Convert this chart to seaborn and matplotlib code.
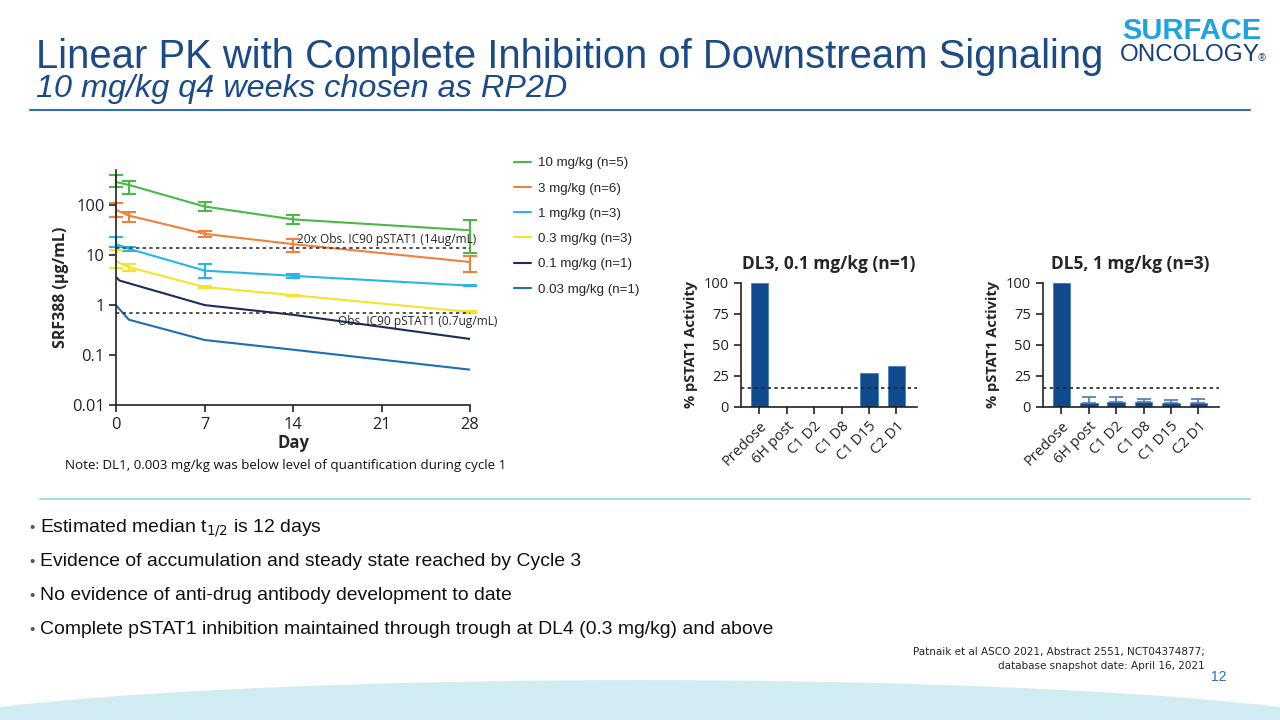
import numpy as np
import pandas as pd
import seaborn as sns
import matplotlib.pyplot as plt
from matplotlib.lines import Line2D
from matplotlib.patches import Ellipse

# PK data (SRF388, ug/mL)
days = [0, 1, 7, 14, 28]
days_01 = [0, 0.25, 7, 14, 28]

pk_10 = [290, 255, 94, 52, 31.5]
pk_10_lo = [235, 166, 77, 43, 11]
pk_10_hi = [400, 310, 115, 64, 51]

pk_3 = [80, 62, 26.7, 16.6, 7.3]
pk_3_lo = [59, 47, 23, 11.8, 4.6]
pk_3_hi = [110, 74, 31, 21, 9.7]

pk_1 = [16.6, 13.4, 4.9, 3.85, 2.45]
pk_1_lo = [14.8, 12.2, 3.5, 3.5, 2.4]
pk_1_hi = [23, 14.7, 6.8, 4.2, 2.5]

pk_03 = [7.5, 5.75, 2.3, 1.58, 0.73]
pk_03_lo = [5.5, 4.9, 2.2, 1.53, 0.7]
pk_03_hi = [12.8, 6.6, 2.4, 1.63, 0.76]

pk_01 = [3.6, 3.1, 1.0, 0.64, 0.21]
pk_003 = [0.98, 0.51, 0.2, 0.128, 0.051]

dose_labels = ["10 mg/kg (n=5)", "3 mg/kg (n=6)", "1 mg/kg (n=3)",
               "0.3 mg/kg (n=3)", "0.1 mg/kg (n=1)", "0.03 mg/kg (n=1)"]
dose_colors = ["#4db848", "#f0803c", "#29b5e8", "#f7e22b", "#1c2b5a", "#1f6db6"]

ic90 = 0.7
ic90_20x = 14

# pSTAT1 bar data
timepoints = ["Predose", "6H post", "C1 D2", "C1 D8", "C1 D15", "C2 D1"]
dl3_vals = [100, 0, 0, 0, 27.5, 33]
dl5_vals = [100, 3.3, 3.9, 3.9, 3.0, 3.0]
dl5_err = [0, 4.2, 4.2, 2.6, 2.6, 3.0]
pstat_cut = 15

navy = "#1b4a87"
bar_col = "#0f4a8c"

sns.set_style("ticks")
plt.rcParams['font.family'] = ['Open Sans', 'DejaVu Sans']
plt.rcParams['axes.edgecolor'] = '#222222'
plt.rcParams['xtick.color'] = '#222222'
plt.rcParams['ytick.color'] = '#222222'

fig = plt.figure(figsize=(12.8, 7.2), dpi=100)
fig.patch.set_facecolor('white')

# ---- header ----
fig.text(36 / 1280, 1 - 68 / 720, "Linear PK with Complete Inhibition of Downstream Signaling",
         fontsize=28.8, color=navy, family='Liberation Sans', va='baseline')
fig.text(36 / 1280, 1 - 97 / 720, "10 mg/kg q4 weeks chosen as RP2D",
         fontsize=23.3, color=navy, family='Liberation Sans', style='italic', va='baseline')
fig.add_artist(Line2D([30 / 1280, 1250 / 1280], [1 - 110 / 720] * 2, color='#2f6eb0', lw=1.5))
fig.text(1192 / 1280, 1 - 39 / 720, "SURFACE", fontsize=21, fontweight='bold', color='#1ea3df',
         family='Liberation Sans', ha='center', va='baseline')
fig.text(1190 / 1280, 1 - 61 / 720, "ONCOLOGY", fontsize=17.5, color='#14407a',
         family='Liberation Sans', ha='center', va='baseline')
fig.text(1258 / 1280, 1 - 61 / 720, "®", fontsize=7, color='#14407a', va='baseline')

# ---- PK plot ----
ax = fig.add_axes([116.3 / 1280, 1 - 405 / 720, (470 - 116.3) / 1280, (405 - 170.3) / 720])
pk_df = pd.concat([
    pd.DataFrame({"day": days, "conc": pk_10, "dose": dose_labels[0]}),
    pd.DataFrame({"day": days, "conc": pk_3, "dose": dose_labels[1]}),
    pd.DataFrame({"day": days, "conc": pk_1, "dose": dose_labels[2]}),
    pd.DataFrame({"day": days, "conc": pk_03, "dose": dose_labels[3]}),
    pd.DataFrame({"day": days_01, "conc": pk_01, "dose": dose_labels[4]}),
    pd.DataFrame({"day": days, "conc": pk_003, "dose": dose_labels[5]}),
])
sns.lineplot(data=pk_df, x="day", y="conc", hue="dose", palette=dose_colors,
             hue_order=dose_labels, lw=1.5, ax=ax, legend=False)

err_sets = [(pk_10, pk_10_lo, pk_10_hi), (pk_3, pk_3_lo, pk_3_hi),
            (pk_1, pk_1_lo, pk_1_hi), (pk_03, pk_03_lo, pk_03_hi)]
for (v, lo, hi), c in zip(err_sets, dose_colors):
    v = np.array(v)
    ax.errorbar(days, v, yerr=[v - np.array(lo), np.array(hi) - v], fmt='none',
                ecolor=c, elinewidth=1.5, capsize=5, capthick=1.5, clip_on=False)

ax.axhline(ic90_20x, color='#333333', ls=(0, (2, 2)), lw=1.2, xmin=0, xmax=1)
ax.axhline(ic90, color='#333333', ls=(0, (2, 2)), lw=1.2, xmin=0, xmax=1)
ax.text(28.5, ic90_20x * 1.1, "20x Obs. IC90 pSTAT1 (14ug/mL)", ha='right', va='bottom', fontsize=8.6)
ax.text(30.2, ic90 * 0.9, "Obs. IC90 pSTAT1 (0.7ug/mL)", ha='right', va='top', fontsize=8.6)

ax.set_yscale('log')
ax.set_ylim(0.01, 500)
ax.set_xlim(0, 28)
ax.set_xticks([0, 7, 14, 21, 28])
ax.set_yticks([0.01, 0.1, 1, 10, 100])
ax.set_yticklabels(["0.01", "0.1", "1", "10", "100"])
ax.minorticks_off()
ax.tick_params(labelsize=11.8, length=5, width=1.2)
ax.set_xlabel("Day", fontsize=12, fontweight='bold', labelpad=1)
ax.set_ylabel("SRF388 (µg/mL)", fontsize=11.5, fontweight='bold', labelpad=2)
for s in ['left', 'bottom']:
    ax.spines[s].set_linewidth(1.2)
sns.despine(ax=ax)

handles = [Line2D([0], [0], color=c, lw=1.5) for c in dose_colors]
fig.legend(handles, dose_labels, loc='upper left', bbox_to_anchor=(502 / 1280, 1 - 145 / 720),
           frameon=False, prop={'family': 'Liberation Sans', 'size': 9.6},
           handlelength=1.3, labelspacing=0.97, handletextpad=0.5)

fig.text(65 / 1280, 1 - 466 / 720,
         "Note: DL1, 0.003 mg/kg was below level of quantification during cycle 1",
         fontsize=9.6, va='center', color='#111111')


# ---- pSTAT1 bar plots ----
def bar_panel(left, vals, title, err=None):
    axb = fig.add_axes([left / 1280, 1 - 406.7 / 720, 176 / 1280, 124 / 720])
    sns.barplot(x=timepoints, y=vals, color=bar_col, width=0.64, ax=axb,
                edgecolor='#4a7fc0', linewidth=0.6, saturation=1)
    if err is not None:
        axb.errorbar(range(len(vals)), vals, yerr=[np.zeros(len(err)), err], fmt='none',
                     ecolor='#4f77b0', elinewidth=1.2, capsize=5, capthick=1.2)
    axb.axhline(pstat_cut, color='#222222', ls=(0, (2, 2)), lw=1.2)
    axb.set_xlim(-0.68, 5.74)
    axb.set_ylim(0, 100)
    axb.set_yticks([0, 25, 50, 75, 100])
    axb.tick_params(labelsize=10.5, length=5, width=1.2)
    plt.setp(axb.get_xticklabels(), rotation=45, ha='right', rotation_mode='anchor')
    axb.set_ylabel("% pSTAT1 Activity", fontsize=10.5, fontweight='bold', labelpad=4)
    axb.set_title(title, fontsize=12.5, fontweight='bold', pad=10)
    for s in ['left', 'bottom']:
        axb.spines[s].set_linewidth(1.2)
    sns.despine(ax=axb)
    return axb


bar_panel(740.7, dl3_vals, "DL3, 0.1 mg/kg (n=1)")
bar_panel(1042.7, dl5_vals, "DL5, 1 mg/kg (n=3)", err=dl5_err)

# ---- bottom section ----
fig.add_artist(Line2D([40 / 1280, 1250 / 1280], [1 - 499 / 720] * 2, color='#a8d8e6', lw=1.5))
bullets = [
    "Estimated median t$_{1/2}$ is 12 days",
    "Evidence of accumulation and steady state reached by Cycle 3",
    "No evidence of anti-drug antibody development to date",
    "Complete pSTAT1 inhibition maintained through trough at DL4 (0.3 mg/kg) and above",
]
for i, b in enumerate(bullets):
    y = 1 - (528 + 34 * i) / 720
    fig.text(29 / 1280, y, "•", fontsize=11, color='#555555', va='center', family='Liberation Sans')
    fig.text(40 / 1280, y, b, fontsize=13.95, color='#111111', va='center', family='Liberation Sans')

fig.text(1205 / 1280, 1 - 652 / 720, "Patnaik et al ASCO 2021, Abstract 2551, NCT04374877;",
         fontsize=7.5, ha='right', va='center', family='Liberation Sans Narrow')
fig.text(1205 / 1280, 1 - 666 / 720, "database snapshot date: April 16, 2021",
         fontsize=7.5, ha='right', va='center', family='Liberation Sans Narrow')
fig.text(1226 / 1280, 1 - 677 / 720, "12", fontsize=10, ha='right', va='center',
         color='#2f6eb0', family='Liberation Sans')

fig.add_artist(Ellipse((0.5, 1 - 738.6 / 720), 1520 / 1280, 117 / 720,
                       facecolor='#d2ecf4', edgecolor='none', zorder=0))

fig.savefig("out.png", dpi=100, facecolor='white')
